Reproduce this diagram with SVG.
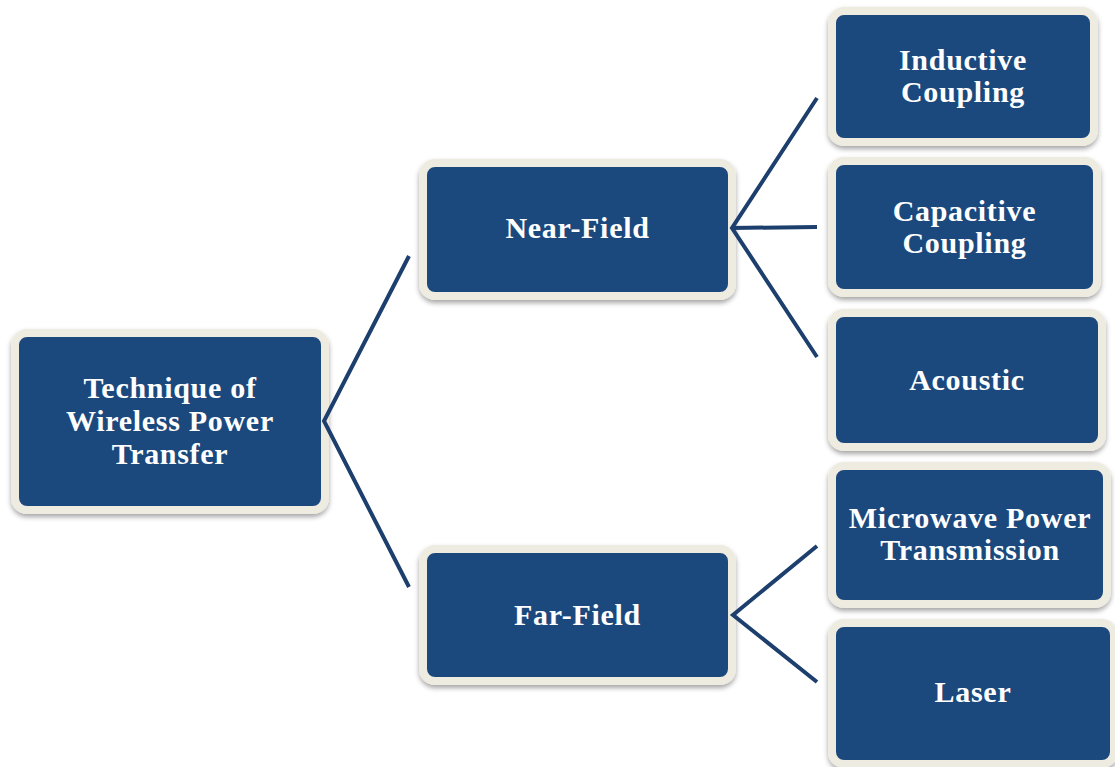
<svg xmlns="http://www.w3.org/2000/svg" width="1115" height="767" viewBox="0 0 1115 767">
  <defs>
    <filter id="sh" x="-10%" y="-10%" width="120%" height="130%">
      <feDropShadow dx="0" dy="3" stdDeviation="2.5" flood-color="#000" flood-opacity="0.35"/>
    </filter>
    <style>
      .box { fill: #1F497D; stroke: #EEECE1; stroke-width: 8; filter: url(#sh); }
      .lbl { font-family: "Liberation Serif", "Times New Roman", serif; font-weight: bold; font-size: 30px; letter-spacing: 0.7px; fill: #FFFFFF; text-anchor: middle; }
      .con { stroke: #1D3F6D; stroke-width: 4; fill: none; stroke-linejoin: miter; }
    </style>
  </defs>
  <rect width="1115" height="767" fill="#FFFFFF"/>

  <g id="root">
    <rect class="box" x="15" y="333" width="310" height="177" rx="12"/>
    <text class="lbl" x="170" y="398">Technique of</text>
    <text class="lbl" x="170" y="431">Wireless Power</text>
    <text class="lbl" x="170" y="464">Transfer</text>
  </g>

  <g id="near-field">
    <rect class="box" x="423" y="163" width="309" height="133" rx="12"/>
    <text class="lbl" x="577.5" y="238">Near-Field</text>
  </g>

  <g id="far-field">
    <rect class="box" x="423" y="549" width="309" height="132" rx="12"/>
    <text class="lbl" x="577.5" y="625">Far-Field</text>
  </g>

  <g id="inductive">
    <rect class="box" x="832" y="11" width="262" height="131" rx="12"/>
    <text class="lbl" x="963" y="70">Inductive</text>
    <text class="lbl" x="963" y="102">Coupling</text>
  </g>

  <g id="capacitive">
    <rect class="box" x="832" y="161" width="265" height="132" rx="12"/>
    <text class="lbl" x="964.5" y="221">Capacitive</text>
    <text class="lbl" x="964.5" y="253">Coupling</text>
  </g>

  <g id="acoustic">
    <rect class="box" x="832" y="313" width="270" height="134" rx="12"/>
    <text class="lbl" x="967" y="390">Acoustic</text>
  </g>

  <g id="microwave">
    <rect class="box" x="832" y="466" width="275" height="138" rx="12"/>
    <text class="lbl" x="970" y="528">Microwave Power</text>
    <text class="lbl" x="970" y="560">Transmission</text>
  </g>

  <g id="laser">
    <rect class="box" x="832" y="623" width="282" height="141" rx="12"/>
    <text class="lbl" x="973" y="702">Laser</text>
  </g>

  <g id="connectors">
    <polyline class="con" points="409,256 324,421 409,587"/>
    <polyline class="con" points="817,98 732,228 817,357"/>
    <line class="con" x1="732" y1="228" x2="817" y2="227"/>
    <polyline class="con" points="817,546 733,615 817,682"/>
  </g>
</svg>
